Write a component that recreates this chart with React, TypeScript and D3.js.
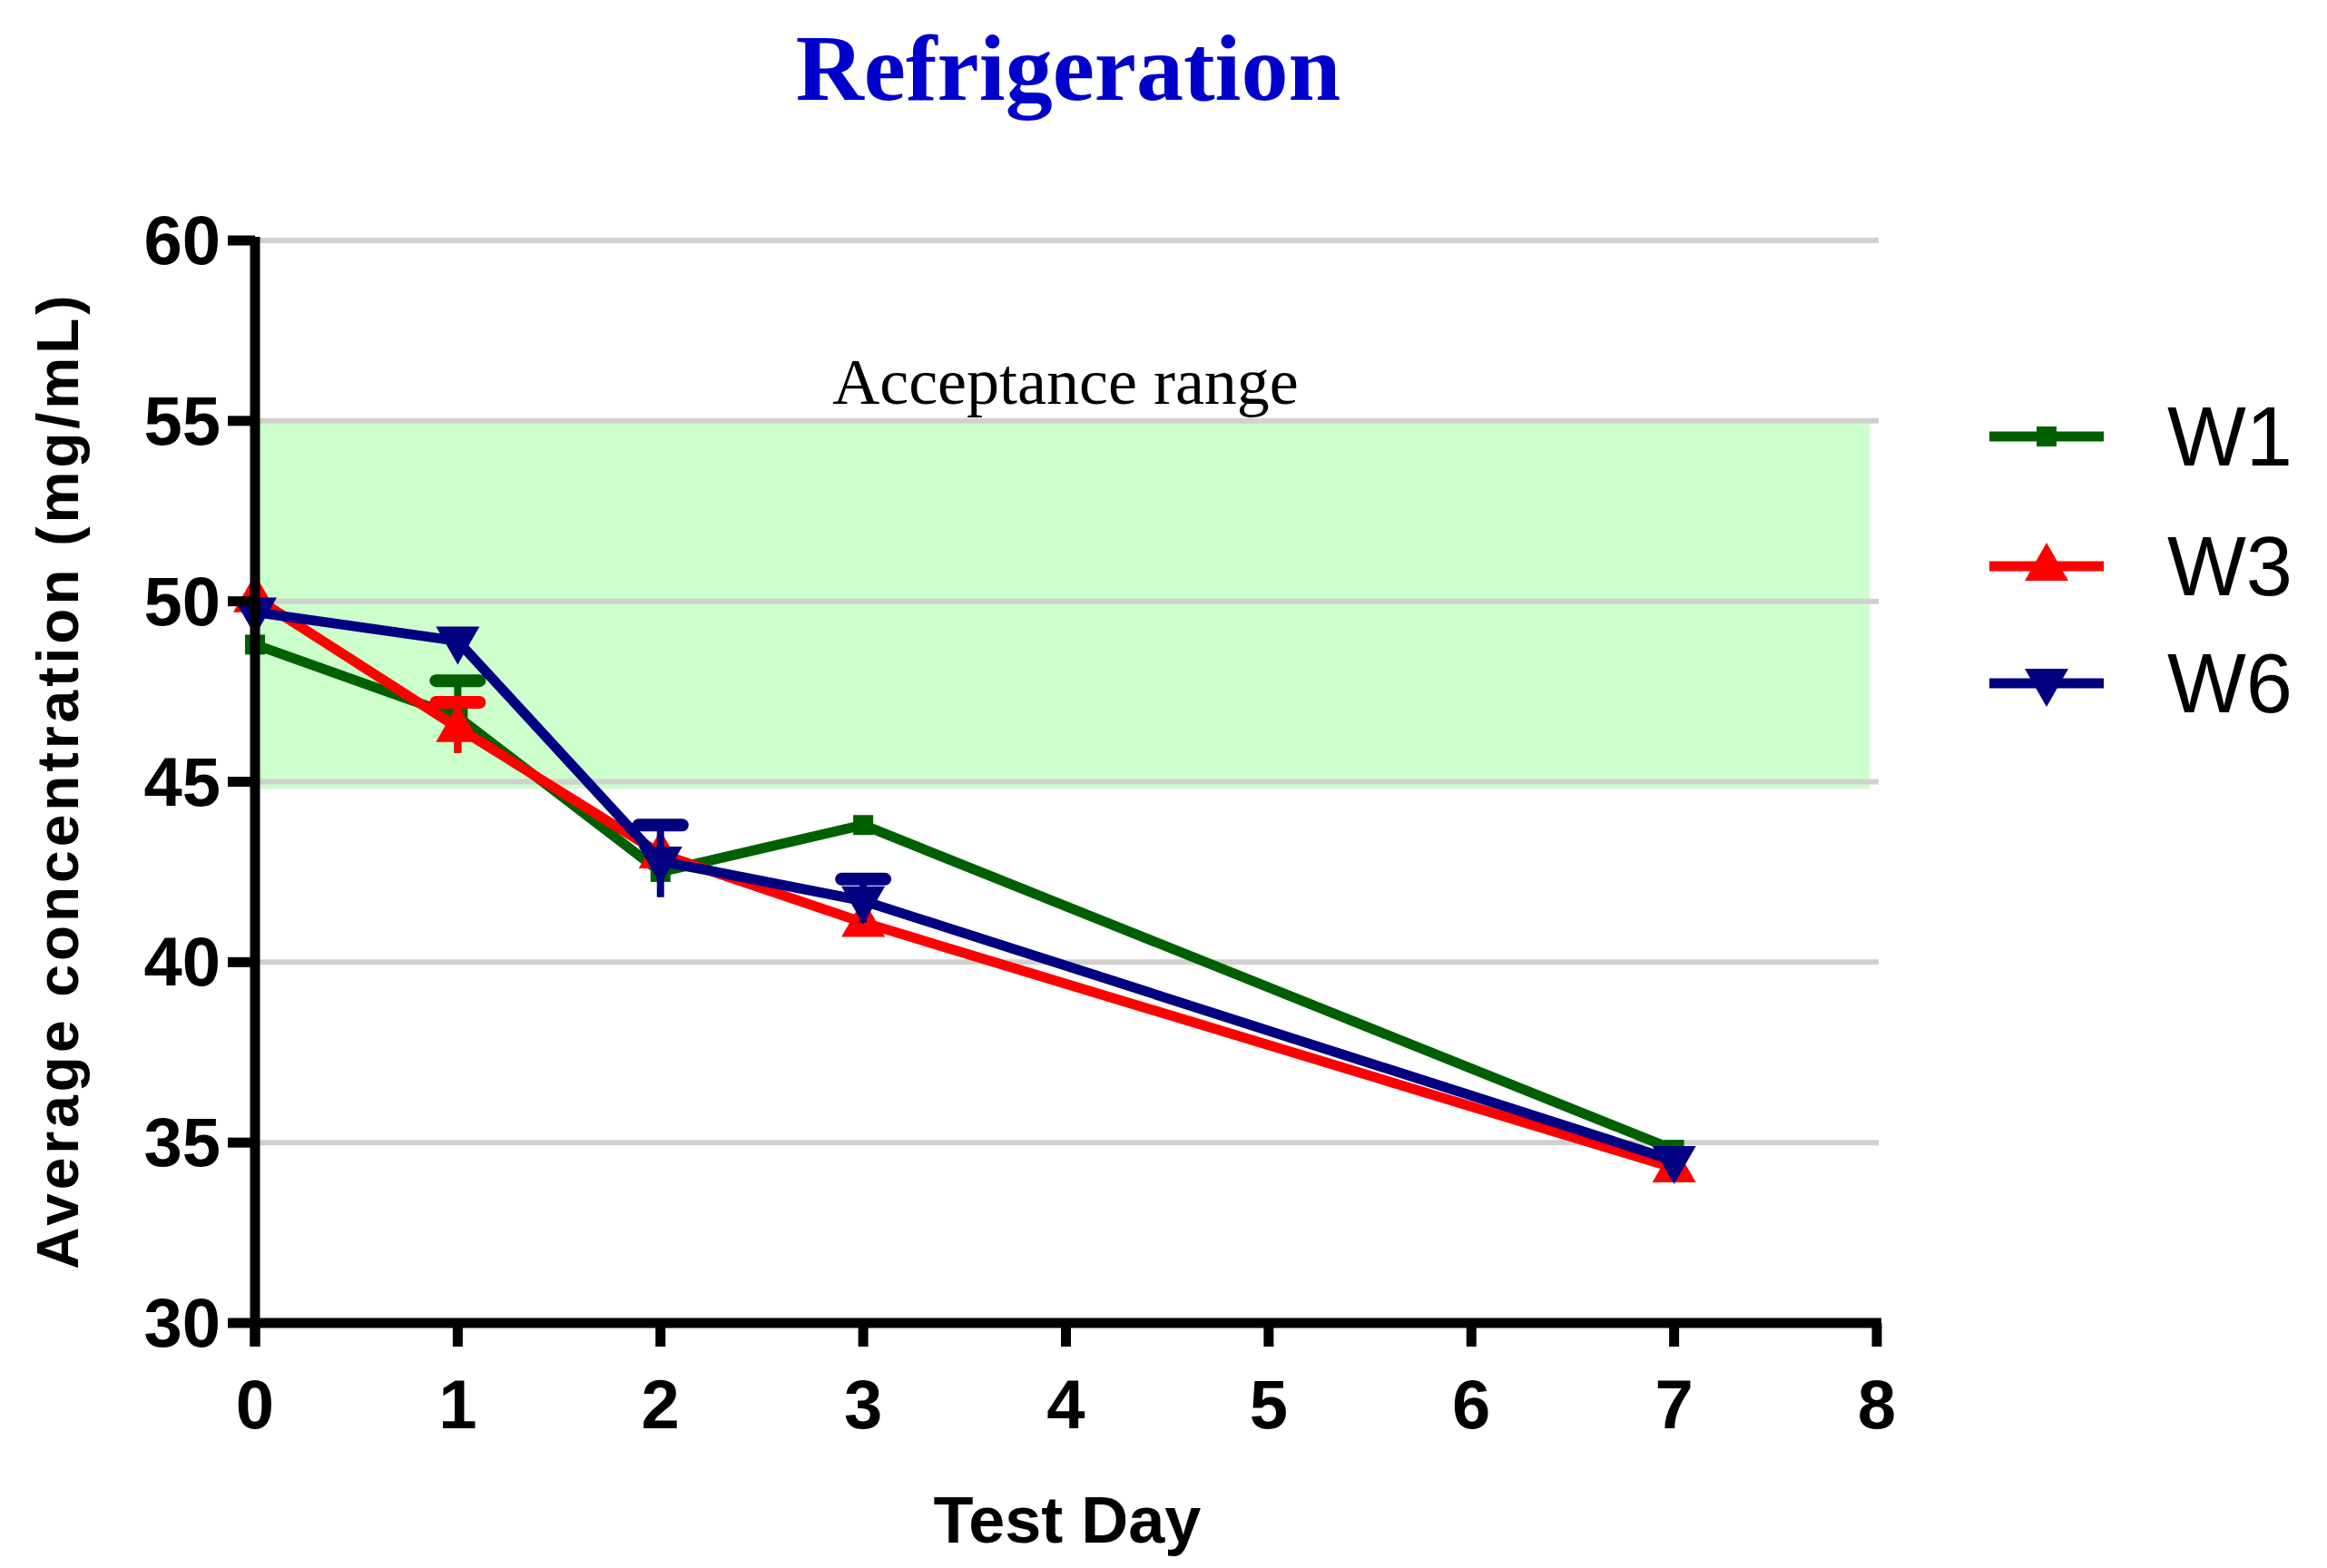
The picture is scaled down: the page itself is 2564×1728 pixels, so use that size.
import React from "react";
import * as d3 from "d3";

const days = [0, 1, 2, 3, 7];
const w1 = [48.8, 46.8, 42.5, 43.8, 34.8];
const w3 = [50.1, 46.5, 43.0, 41.1, 34.3];
const w6 = [49.7, 48.9, 42.8, 41.7, 34.5];
const w1Err = [0, 1.0, 0, 0, 0];
const w3Err = [0, 0.7, 0, 0, 0];
const w6Err = [0, 0, 1.0, 0.6, 0];
const xTicks = [0, 1, 2, 3, 4, 5, 6, 7, 8];
const yTicks = [30, 35, 40, 45, 50, 55, 60];
const seriesNames = ["W1", "W3", "W6"];
const colors = ["#006000", "#ff0000", "#000080"];

export default function App() {
  const W = 2564, H = 1728;
  const x = d3.scaleLinear().domain([0, 8]).range([281, 2068]);
  const y = d3.scaleLinear().domain([30, 60]).range([1458, 265]);
  const line = d3.line<number>().x((_, i) => x(days[i])).y((v) => y(v));
  const data = [w1, w3, w6];
  const errs = [w1Err, w3Err, w6Err];
  const marker = (k: number, cx: number, cy: number) => {
    const c = colors[k];
    if (k === 0) return <rect x={cx - 11} y={cy - 11} width={22} height={22} fill={c} />;
    if (k === 1) return <path d={`M${cx},${cy - 26}L${cx + 24},${cy + 16}L${cx - 24},${cy + 16}Z`} fill={c} />;
    return <path d={`M${cx},${cy + 26}L${cx + 24},${cy - 16}L${cx - 24},${cy - 16}Z`} fill={c} />;
  };
  return (
    <svg width={W} height={H} style={{ display: "block", margin: "-8px" }}>
      <rect width={W} height={H} fill="white" />
      <text x={1177} y={110} textAnchor="middle" fontFamily="Liberation Serif" fontWeight="bold" fontSize={104} fill="#0000cc">Refrigeration</text>
      <rect x={x(0)} y={y(55)} width={2060 - x(0)} height={y(44.8) - y(55)} fill="#ccffcc" />
      {yTicks.filter((t) => t > 30).map((t) => (
        <line key={t} x1={x(0)} x2={2070} y1={y(t)} y2={y(t)} stroke="#d0d0d0" strokeWidth={6} />
      ))}
      <text x={1174} y={445} textAnchor="middle" fontFamily="Liberation Serif" fontSize={72} fill="#000">Acceptance range</text>
      {data.map((d, k) => (
        <g key={k}>
          <path d={line(d) || ""} fill="none" stroke={colors[k]} strokeWidth={11} strokeLinejoin="round" />
          {d.map((v, i) =>
            errs[k][i] > 0 ? (
              <g key={"e" + i}>
                <line x1={x(days[i])} x2={x(days[i])} y1={y(v - errs[k][i])} y2={y(v + errs[k][i])} stroke={colors[k]} strokeWidth={8} />
                <line x1={x(days[i]) - 24} x2={x(days[i]) + 24} y1={y(v + errs[k][i])} y2={y(v + errs[k][i])} stroke={colors[k]} strokeWidth={14} strokeLinecap="round" />
              </g>
            ) : null
          )}
          {d.map((v, i) => <g key={i}>{marker(k, x(days[i]), y(v))}</g>)}
        </g>
      ))}
      <line x1={x(0)} x2={x(0)} y1={y(60) - 4} y2={y(30) + 26} stroke="#000" strokeWidth={11} />
      <line x1={x(0) - 5} x2={x(8) + 5} y1={y(30)} y2={y(30)} stroke="#000" strokeWidth={11} />
      {yTicks.map((t) => (
        <g key={t}>
          <line x1={x(0) - 30} x2={x(0)} y1={y(t)} y2={y(t)} stroke="#000" strokeWidth={11} />
          <text x={x(0) - 38} y={y(t) + 26} textAnchor="end" fontFamily="Liberation Sans Narrow, Liberation Sans" fontWeight="bold" fontSize={76}>{t}</text>
        </g>
      ))}
      {xTicks.map((t) => (
        <g key={t}>
          <line x1={x(t)} x2={x(t)} y1={y(30)} y2={y(30) + 26} stroke="#000" strokeWidth={11} />
          <text x={x(t)} y={y(30) + 116} textAnchor="middle" fontFamily="Liberation Sans Narrow, Liberation Sans" fontWeight="bold" fontSize={76}>{t}</text>
        </g>
      ))}
      <text x={1176} y={1700} textAnchor="middle" fontFamily="Liberation Sans Narrow, Liberation Sans" fontWeight="bold" fontSize={72}>Test Day</text>
      <text transform={`translate(86,860) rotate(-90)`} textAnchor="middle" fontFamily="Liberation Sans" fontWeight="bold" fontSize={64} letterSpacing={4}>Average concentration (mg/mL)</text>
      {seriesNames.map((n, k) => {
        const ly = [481, 624, 753][k];
        return (
          <g key={n}>
            <line x1={2192} x2={2318} y1={ly} y2={ly} stroke={colors[k]} strokeWidth={11} />
            {marker(k, 2255, ly)}
            <text x={2388} y={ly + 32} fontFamily="Liberation Sans" fontSize={92}>{n}</text>
          </g>
        );
      })}
    </svg>
  );
}
